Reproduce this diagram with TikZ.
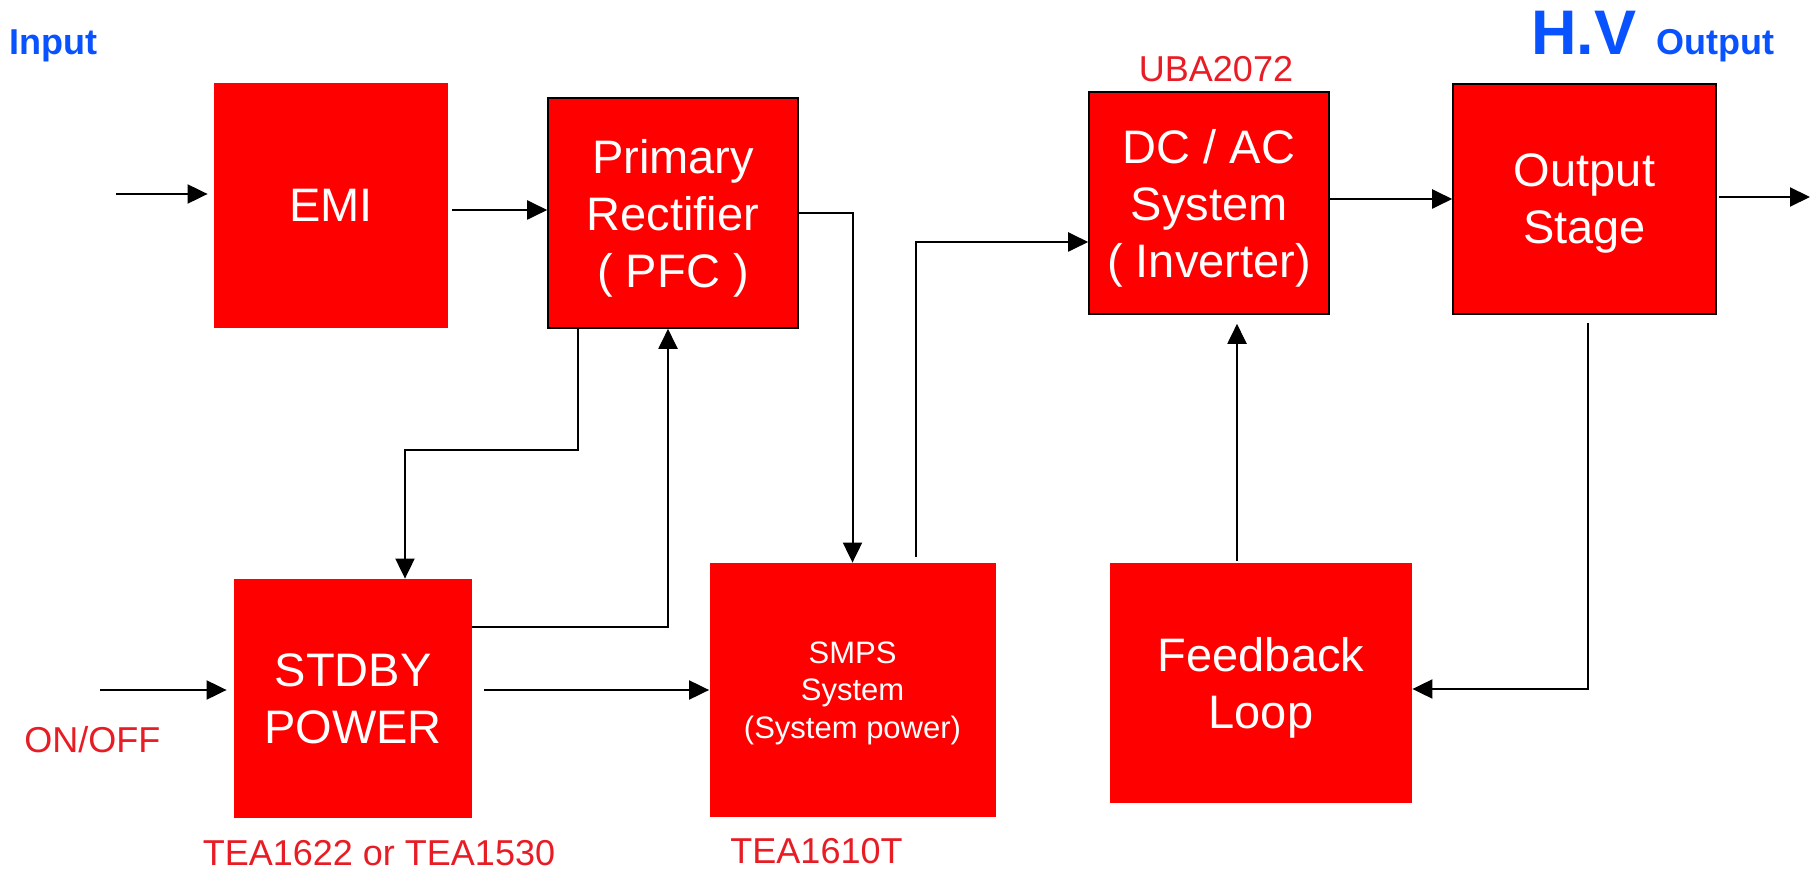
\documentclass[tikz,border=0pt]{standalone}
\usepackage{fontspec}
\setmainfont{Liberation Sans}
\usetikzlibrary{arrows.meta,positioning,calc}
\definecolor{boxred}{RGB}{255,0,0}
\definecolor{chipred}{RGB}{232,28,36}
\definecolor{hvblue}{RGB}{8,82,255}
\tikzset{
  blockbox/.style={fill=boxred, text=white, align=center, inner sep=0pt, text depth=0pt,
    font=\fontsize{23.5}{28.5}\selectfont},
  framedbox/.style={blockbox, draw=black, line width=0.8pt},
  chiplabel/.style={text=chipred, inner sep=0pt, font=\fontsize{18}{20}\selectfont},
  headlabel/.style={text=hvblue, inner sep=0pt, font=\bfseries\fontsize{18}{20}\selectfont},
  flow/.style={-{Triangle[length=10pt,width=9.5pt]}, line width=1pt}
}

\begin{document}
\begin{tikzpicture}[x=0.5pt,y=-0.5pt]
\useasboundingbox (0,0) rectangle (1810,871);

% blocks
\node[blockbox, minimum width=117pt, minimum height=122.5pt] (emi) at (331,205.5) {EMI};
\node[framedbox, minimum width=125pt, minimum height=115pt] (pfc) at (673,213) {Primary\\Rectifier\\( PFC )};
\node[framedbox, minimum width=120pt, minimum height=111pt] (inv) at (1209,203) {DC / AC\\System\\( Inverter)};
\node[framedbox, minimum width=131.5pt, minimum height=115pt] (outst) at (1584.5,199) {Output\\Stage};
\node[blockbox, minimum width=119pt, minimum height=119.5pt] (stdby) at (353,698.5) {STDBY\\POWER};
\node[blockbox, minimum width=143pt, minimum height=127pt, font=\fontsize{15.5}{18.75}\selectfont] (smps) at (852.5,690) {SMPS\\System\\(System power)};
\node[blockbox, minimum width=151pt, minimum height=120pt] (fb) at (1261,683) {Feedback\\Loop};

% labels
\node[chiplabel, above=4.5pt of inv, xshift=3.5pt] (uba) {UBA2072};
\node[chiplabel, below=11pt of stdby, xshift=13pt] (tea1) {TEA1622 or TEA1530};
\node[chiplabel, below=10.5pt of smps, xshift=-18pt] (tea2) {TEA1610T};
\node[chiplabel, anchor=base west] (onoff) at (24,752) {ON/OFF};
\node[headlabel, anchor=base west] (inlbl) at (9,55) {Input};
\node[headlabel, anchor=base west] (hvlbl) at (1531,55) {{\fontsize{31.5}{34}\selectfont H.V }\hspace{1.5pt}Output};

% free ends and taps
\coordinate (inpt) at (116,194);
\coordinate (onin) at (100,690);
\coordinate (hvout) at (1810,197);
\coordinate (emiout) at ([yshift=-2.25pt]emi.east);
\coordinate (pfcdown) at ([xshift=-47.5pt]pfc.south);
\coordinate (stdbyin) at ([xshift=26pt]stdby.north);
\coordinate (stdbyup) at ([yshift=35.75pt]stdby.east);
\coordinate (stdbyout) at ([yshift=4.25pt]stdby.east);
\coordinate (fbup) at ([xshift=-12pt,yshift=1pt]fb.north);

% connectors
\draw[flow, shorten >=3pt] (inpt) -- (inpt -| emi.west);
\draw[flow, shorten <=2pt] (emiout) -- (emiout -| pfc.west);
\draw[flow] (pfc.east) -| (smps.north);
\draw[flow] (pfcdown) -- ++(0,121) -| (stdbyin);
\draw[flow] (stdbyup) -| ([xshift=-2.5pt]pfc.south);
\draw[flow, shorten >=3.5pt] (onin) -- (onin -| stdby.west);
\draw[flow, shorten <=6pt] (stdbyout) -- (stdbyout -| smps.west);
\draw[flow] ([xshift=31.75pt,yshift=3pt]smps.north) |- ([yshift=-19.5pt]inv.west);
\draw[flow, shorten >=4.5pt] (fbup) -- (fbup |- inv.south);
\draw[flow] ([yshift=2pt]inv.east) -- (outst.west);
\draw[flow, shorten <=1pt] (outst.east |- hvout) -- (hvout);
\draw[flow] ([xshift=1.75pt,yshift=-4pt]outst.south) |- ([yshift=-3pt]fb.east);
\end{tikzpicture}
\end{document}
